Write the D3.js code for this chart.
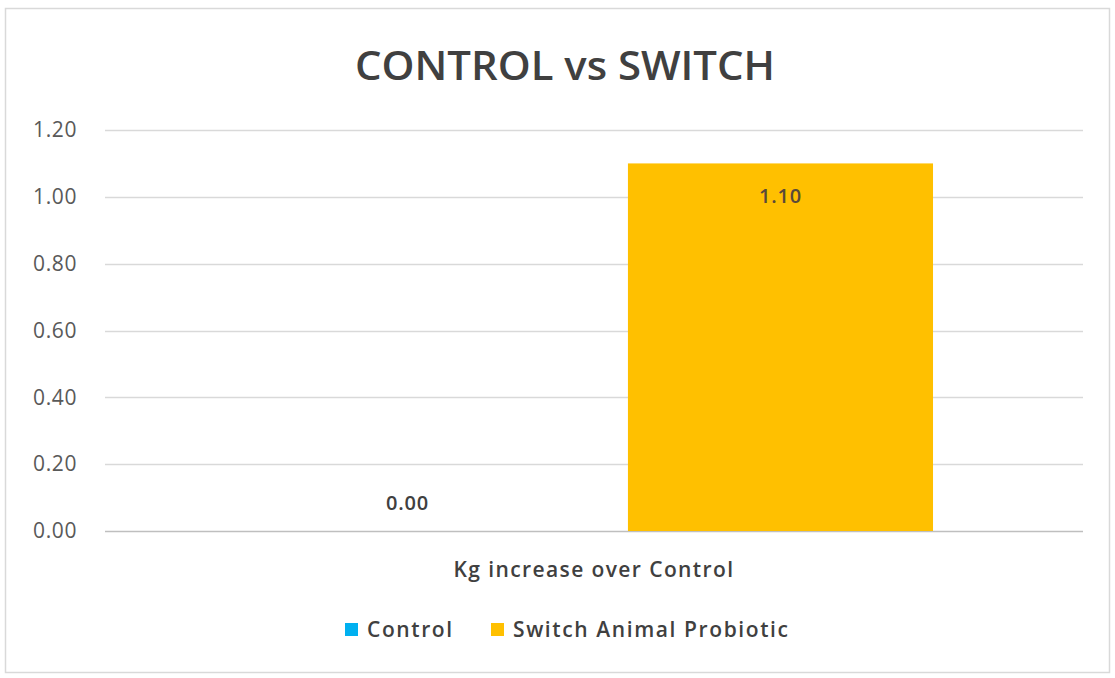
<!DOCTYPE html>
<html><head><meta charset="utf-8">
<script src="https://cdn.jsdelivr.net/npm/d3@7"></script>
<style>body{margin:0;background:#fff;} svg{display:block;}</style>
</head><body>
<svg id="chart" width="1115" height="678"></svg>
<script>
const title = "CONTROL vs SWITCH";
const category = "Kg increase over Control";
const seriesNames = ["Control", "Switch Animal Probiotic"];
const seriesValues = [0.00, 1.10];
const seriesColors = ["#00B0F0", "#FFC000"];
const yTicks = [0, 0.2, 0.4, 0.6, 0.8, 1.0, 1.2];

const svg = d3.select("#chart");
const m = {left: 105, right: 1083, top: 130, bottom: 531};
const font = "'Open Sans', 'Noto Sans', sans-serif";

svg.append("rect").attr("x", 5.5).attr("y", 8.5).attr("width", 1104).attr("height", 664)
  .attr("fill", "#fff").attr("stroke", "#d9d9d9").attr("stroke-width", 1.5);

const y = d3.scaleLinear().domain([0, 1.2]).range([m.bottom, m.top]);
const xOuter = d3.scaleBand().domain([category]).range([m.left, m.right]).paddingInner(0).paddingOuter(0.2212);
const xInner = d3.scaleBand().domain(seriesNames).range([0, xOuter.bandwidth()]).paddingInner(0.182).paddingOuter(0);

// gridlines
svg.append("g").selectAll("line").data(yTicks).join("line")
  .attr("x1", m.left).attr("x2", m.right)
  .attr("y1", d => Math.round(y(d)) + 0.5).attr("y2", d => Math.round(y(d)) + 0.5)
  .attr("stroke", d => d === 0 ? "#bfbfbf" : "#d9d9d9").attr("stroke-width", 1.3);

// y axis labels
const yAxis = d3.axisLeft(y).tickValues(yTicks).tickFormat(d3.format(".2f")).tickSize(0).tickPadding(0);
const ga = svg.append("g").attr("transform", `translate(77,0)`).call(yAxis);
ga.select(".domain").remove();
ga.selectAll("text").attr("font-family", font).attr("font-size", 21).attr("letter-spacing", 0.6).attr("fill", "#595959");

// bars
const x0 = xOuter(category);
svg.append("g").selectAll("rect").data(seriesNames).join("rect")
  .attr("x", (d) => x0 + xInner(d))
  .attr("width", xInner.bandwidth())
  .attr("y", (d, i) => y(seriesValues[i]))
  .attr("height", (d, i) => y(0) - y(seriesValues[i]))
  .attr("fill", (d, i) => seriesColors[i]);

// data labels
svg.append("g").selectAll("text").data(seriesNames).join("text")
  .attr("x", d => x0 + xInner(d) + xInner.bandwidth() / 2)
  .attr("y", (d, i) => seriesValues[i] > 0 ? y(seriesValues[i]) + 40 : y(seriesValues[i]) - 21)
  .attr("text-anchor", "middle")
  .attr("font-family", font).attr("font-size", 20).attr("font-weight", 600).attr("letter-spacing", 0.8)
  .attr("fill", (d, i) => seriesValues[i] > 0 ? "#5a4a3a" : "#404040")
  .text((d, i) => d3.format(".2f")(seriesValues[i]));

// title
svg.append("text").attr("x", 565).attr("y", 80).attr("text-anchor", "middle")
  .attr("font-family", font).attr("font-size", 40).attr("font-weight", 600)
  .attr("fill", "#404040").attr("textLength", 420).attr("lengthAdjust", "spacingAndGlyphs")
  .text(title);

// category label
svg.append("text").attr("x", (m.left + m.right) / 2).attr("y", 577).attr("text-anchor", "middle")
  .attr("font-family", font).attr("font-size", 21).attr("font-weight", 600).attr("letter-spacing", 1.4)
  .attr("fill", "#404040").text(category);

// legend
const legendX = [345, 491];
const lg = svg.append("g").selectAll("g").data(seriesNames).join("g")
  .attr("transform", (d, i) => `translate(${legendX[i]},623)`);
lg.append("rect").attr("width", 13).attr("height", 13).attr("fill", (d, i) => seriesColors[i]);
lg.append("text").attr("x", 22).attr("y", 14)
  .attr("font-family", font).attr("font-size", 21).attr("font-weight", 600).attr("letter-spacing", 1.6)
  .attr("fill", "#404040").text(d => d);
</script>
</body></html>
